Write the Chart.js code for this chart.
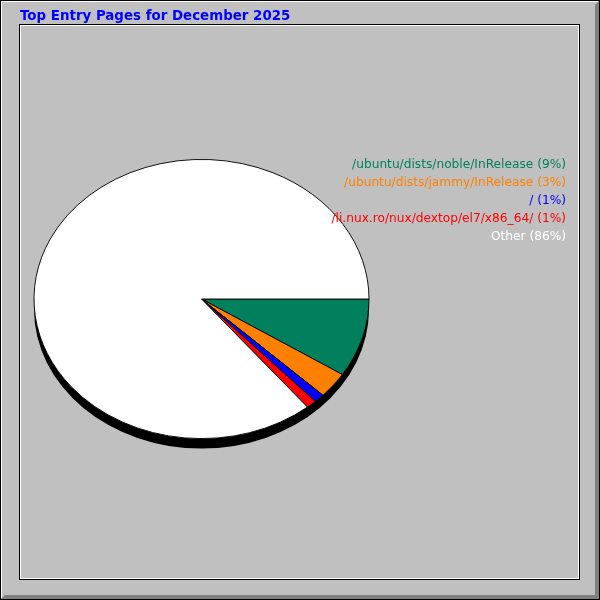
<!DOCTYPE html>
<html>
<head>
<meta charset="utf-8">
<title>Top Entry Pages for December 2025</title>
<script src="https://cdn.jsdelivr.net/npm/chart.js@4/dist/chart.umd.min.js"></script>
<style>
  html, body { margin: 0; padding: 0; background: #c0c0c0; }
  #wrap { width: 600px; height: 600px; position: relative; }
</style>
</head>
<body>
<div id="wrap"><canvas id="myChart" width="600" height="600"></canvas></div>
<script>
// data
var pages = ['/ubuntu/dists/noble/InRelease', '/ubuntu/dists/jammy/InRelease', '/', '/li.nux.ro/nux/dextop/el7/x86_64/', 'Other'];
var shares = [9.1, 3.0, 1.0, 1.0, 85.9];
var shareLabels = ['9%', '3%', '1%', '1%', '86%'];
var sliceColors = ['#00805c', '#ff8000', '#0000ff', '#ff0000', '#ffffff'];
var chartTitle = 'Top Entry Pages for December 2025';

// pie is drawn squashed into an ellipse, with a black 3D rim below
var squash = 140 / 168;
var depth = 10;

// frame, title and the background
var framePlugin = {
  id: 'frame',
  beforeDraw: function(chart) {
    var c = chart.ctx;
    c.save();
    c.fillStyle = '#c0c0c0';
    c.fillRect(0, 0, 600, 600);
    // outer bevel
    c.fillStyle = '#808080';
    c.beginPath();
    c.moveTo(599, 1); c.lineTo(599, 599); c.lineTo(1, 599);
    c.lineTo(5, 595); c.lineTo(595, 595); c.lineTo(595, 5);
    c.closePath(); c.fill();
    c.fillStyle = '#ffffff';
    c.fillRect(1, 1, 597, 1);
    c.fillRect(1, 1, 1, 597);
    c.strokeStyle = '#000';
    c.lineWidth = 1;
    c.strokeRect(0.5, 0.5, 599, 599);
    // inner frame
    c.strokeStyle = '#000';
    c.strokeRect(19.5, 24.5, 560, 555);
    c.strokeStyle = '#fff';
    c.strokeRect(20.5, 25.5, 558, 553);
    // title
    c.fillStyle = '#0000ff';
    c.font = 'bold 13.4px "DejaVu Sans"';
    c.textBaseline = 'alphabetic';
    c.textAlign = 'left';
    c.fillText(chartTitle, 20, 20);
    c.restore();
  },
  afterDraw: function(chart) {
    // legend on the right
    var c = chart.ctx;
    c.save();
    c.font = '12.2px "DejaVu Sans"';
    c.textAlign = 'right';
    c.textBaseline = 'middle';
    for (var i = 0; i < pages.length; i++) {
      c.fillStyle = sliceColors[i];
      c.fillText(pages[i] + ' (' + shareLabels[i] + ')', 566, 165 + i * 18);
    }
    c.restore();
  }
};

// squash the pie into an ellipse and draw the rim under it
var ellipsePlugin = {
  id: 'ellipse',
  beforeDatasetsDraw: function(chart) {
    var arc = chart.getDatasetMeta(0).data[0];
    var cx = arc.x, cy = arc.y, r = arc.outerRadius;
    var c = chart.ctx;
    c.save();
    c.translate(cx, cy);
    c.scale(1, squash);
    c.translate(-cx, -cy);
    // rim
    var d = depth / squash;
    c.fillStyle = '#000';
    c.beginPath();
    c.arc(cx, cy + d, r, 0, Math.PI, false);
    c.lineTo(cx - r, cy);
    c.arc(cx, cy, r, Math.PI, 0, true);
    c.closePath();
    c.fill();
  },
  afterDatasetsDraw: function(chart) {
    chart.ctx.restore();
  }
};

const config = {
  type: 'pie',
  data: {
    labels: pages,
    datasets: [{
      data: shares,
      backgroundColor: sliceColors,
      borderColor: '#000',
      borderWidth: 1
    }]
  },
  options: {
    responsive: false,
    animation: false,
    devicePixelRatio: 1,
    rotation: 90,
    layout: { padding: { left: 33, right: 230, top: 131, bottom: 133 } },
    plugins: {
      legend: { display: false },
      tooltip: { enabled: false },
      title: { display: false }
    }
  },
  plugins: [framePlugin, ellipsePlugin]
};

const myChart = new Chart(document.getElementById('myChart'), config);
</script>
</body>
</html>
